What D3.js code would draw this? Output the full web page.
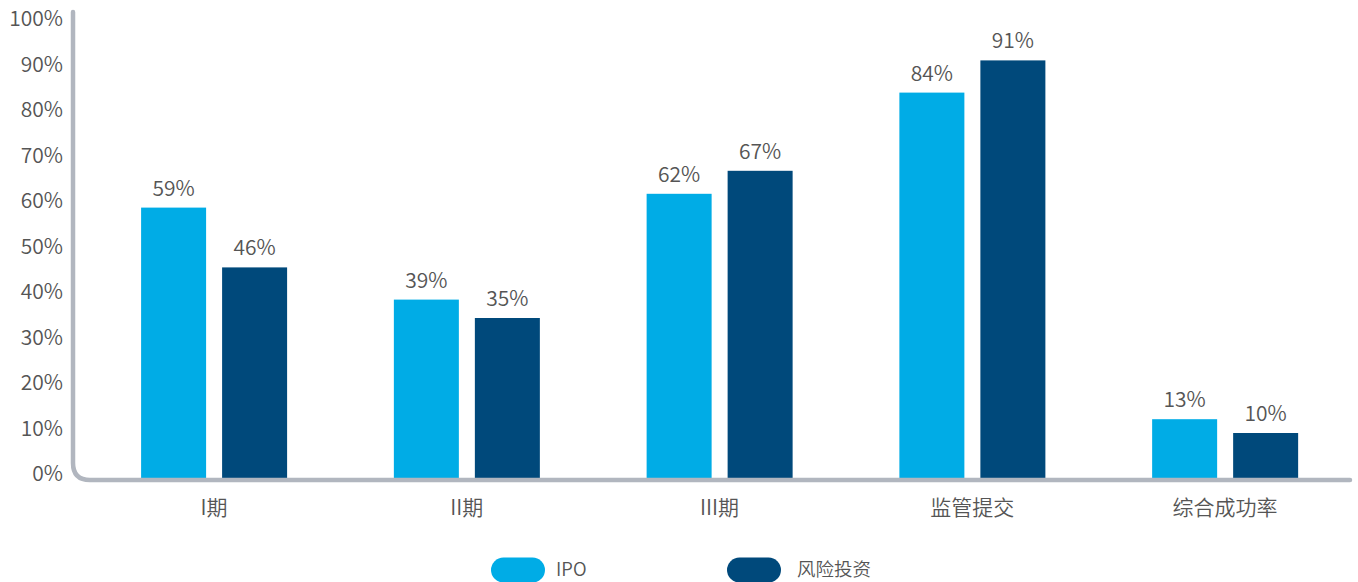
<!DOCTYPE html>
<html>
<head>
<meta charset="utf-8">
<script src="https://cdn.jsdelivr.net/npm/d3@7"></script>
<style>
  html, body { margin: 0; padding: 0; background: #fff; }
  svg { display: block; }
  text { font-family: "Noto Sans CJK SC", "Noto Sans", sans-serif; fill: #555; font-weight: 350; }
</style>
</head>
<body>
<svg id="chart" width="1358" height="582"></svg>
<script>
// Phase success rates, IPO vs venture capital
const categories = ["I期", "II期", "III期", "监管提交", "综合成功率"];
const seriesNames = ["IPO", "风险投资"];
const ipoValues = [59, 39, 62, 84, 13];
const vcValues = [46, 35, 67, 91, 10];
const tickValues = [0, 10, 20, 30, 40, 50, 60, 70, 80, 90, 100];
const colors = ["#00ace6", "#00497b"];

const svg = d3.select("#chart");

const axisX = 73, baseY = 480;
const y = d3.scaleLinear().domain([0, 100]).range([479, 19]);
const yLabel = d3.scaleLinear().domain([0, 100]).range([474, 19]);

const x0 = d3.scaleBand().domain(categories).range([87.6, 1351.4]).paddingInner(0).paddingOuter(0);
const x1 = d3.scaleBand().domain(seriesNames)
  .range([53.5, 199.5]).paddingInner(16 / 81).paddingOuter(0);

const rows = categories.map((c, i) => ({ cat: c, vals: [ipoValues[i], vcValues[i]] }));

// bars
const groups = svg.append("g").selectAll("g").data(rows).join("g")
  .attr("transform", d => `translate(${x0(d.cat)},0)`);

groups.selectAll("rect").data(d => d.vals.map((v, j) => ({ v, s: seriesNames[j], j })))
  .join("rect")
  .attr("x", d => x1(d.s))
  .attr("width", x1.bandwidth())
  .attr("y", d => y(d.v))
  .attr("height", d => baseY + 1 - y(d.v))
  .attr("fill", d => colors[d.j]);

groups.selectAll("text.val").data(d => d.vals.map((v, j) => ({ v, s: seriesNames[j] })))
  .join("text")
  .attr("class", "val")
  .attr("x", d => x1(d.s) + x1.bandwidth() / 2)
  .attr("y", d => y(d.v) - 12)
  .attr("text-anchor", "middle")
  .attr("font-size", 21)
  .text(d => d.v + "%");

// axis frame with rounded corner
const r = 17;
svg.append("path")
  .attr("d", `M${axisX},12 L${axisX},${baseY - r} Q${axisX},${baseY} ${axisX + r},${baseY} L1350,${baseY}`)
  .attr("fill", "none")
  .attr("stroke", "#b1b6bf")
  .attr("stroke-width", 4.5)
  .attr("stroke-linecap", "round");

// y tick labels
svg.append("g").selectAll("text").data(tickValues).join("text")
  .attr("x", 63)
  .attr("y", d => yLabel(d))
  .attr("dy", "0.35em")
  .attr("text-anchor", "end")
  .attr("font-size", 21)
  .text(d => d + "%");

// category labels
svg.append("g").selectAll("text").data(categories).join("text")
  .attr("x", d => x0(d) + x0.bandwidth() / 2)
  .attr("y", 508)
  .attr("dy", "0.35em")
  .attr("text-anchor", "middle")
  .attr("font-size", 21)
  .text(d => d);

// legend
const legendX = [491, 727];
const legend = svg.append("g").selectAll("g").data(seriesNames).join("g")
  .attr("transform", (d, i) => `translate(${legendX[i]},570)`);
legend.append("rect")
  .attr("x", 0).attr("y", -12.5)
  .attr("width", 54).attr("height", 25)
  .attr("rx", 12.5)
  .attr("fill", (d, i) => colors[i]);
legend.append("text")
  .attr("x", (d, i) => i === 0 ? 65 : 70)
  .attr("y", 0)
  .attr("dy", "0.35em")
  .attr("font-size", 18.5)
  .text(d => d);
</script>
</body>
</html>
